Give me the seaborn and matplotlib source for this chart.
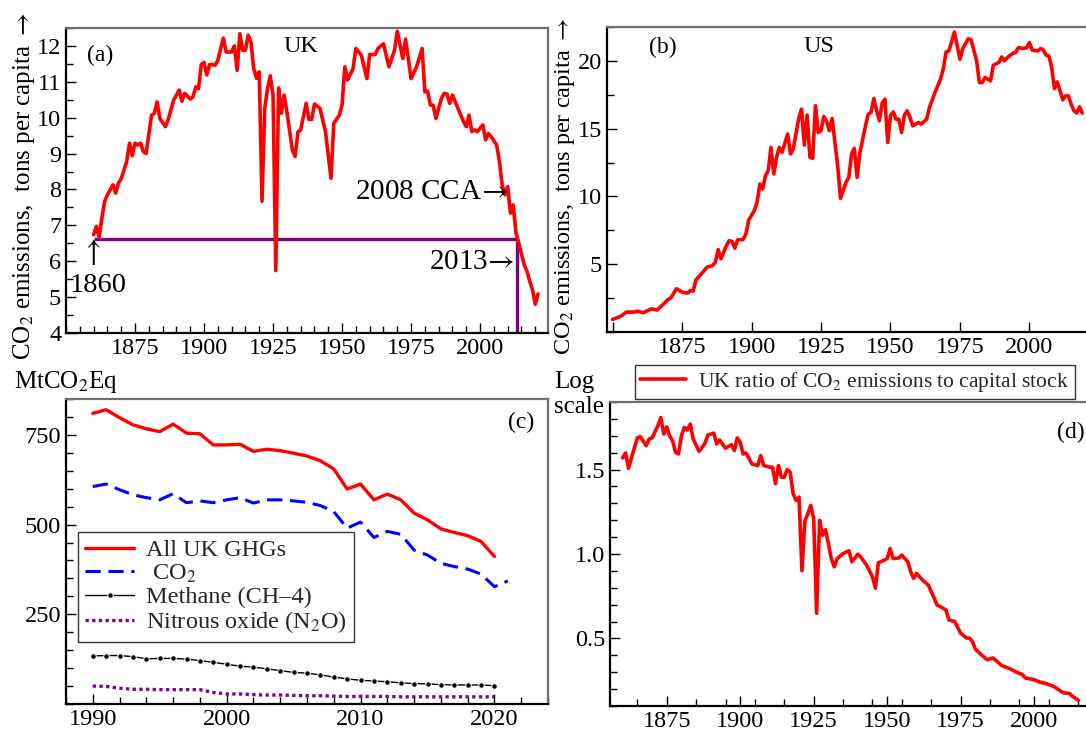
import matplotlib
matplotlib.use("Agg")
import matplotlib.pyplot as plt
import seaborn as sns
from matplotlib.ticker import MultipleLocator, FixedLocator, FuncFormatter

# ---- (a) UK CO2 per capita, tons ----
uk_years = [1860, 1861, 1862, 1863, 1864, 1865, 1867, 1868, 1869, 1870, 1872, 1873, 1874, 1875,
            1876, 1877, 1878, 1879, 1881, 1882, 1883, 1884, 1886, 1887, 1889, 1891, 1892, 1893,
            1895, 1896, 1897, 1898, 1899, 1900, 1901, 1902, 1903, 1904, 1905, 1907, 1908, 1909,
            1910, 1911, 1912, 1913, 1914, 1915, 1916, 1917, 1918, 1919, 1920, 1921, 1922, 1923,
            1924, 1925, 1926, 1927, 1928, 1929, 1930, 1932, 1933, 1934, 1935, 1937, 1938, 1939,
            1940, 1942, 1944, 1946, 1947, 1949, 1950, 1951, 1952, 1954, 1955, 1957, 1959, 1960,
            1962, 1963, 1965, 1967, 1969, 1970, 1972, 1973, 1975, 1977, 1979, 1980, 1981, 1982,
            1983, 1984, 1986, 1987, 1988, 1989, 1990, 1992, 1994, 1995, 1996, 1997, 1998, 1999,
            2001, 2002, 2003, 2004, 2006, 2007, 2008, 2009, 2010, 2011, 2012, 2013, 2014, 2015,
            2016, 2017, 2018, 2019, 2020, 2021]
uk_co2 = [6.74, 6.97, 6.67, 7.20, 7.67, 7.85, 8.13, 7.90, 8.18, 8.30, 8.78, 9.29, 8.94, 9.29,
          9.24, 9.29, 9.06, 9.00, 10.07, 10.12, 10.44, 9.98, 9.75, 9.94, 10.49, 10.77, 10.46, 10.68,
          10.52, 10.58, 10.86, 10.81, 11.48, 11.54, 11.19, 11.48, 11.48, 11.46, 11.60, 12.22, 11.83, 11.83,
          11.83, 12.00, 11.32, 12.34, 11.88, 11.88, 12.30, 12.10, 11.37, 11.10, 11.28, 7.67, 10.26, 10.81,
          11.17, 10.63, 5.74, 10.83, 10.12, 10.63, 10.17, 9.10, 8.92, 9.60, 9.66, 10.40, 9.95, 9.95,
          10.38, 10.26, 9.61, 8.31, 9.84, 10.07, 10.35, 11.42, 11.05, 11.37, 11.93, 11.74, 11.09, 11.76,
          11.76, 11.93, 12.06, 11.42, 11.88, 12.41, 11.65, 12.19, 11.09, 11.42, 11.93, 10.72, 10.74, 10.35,
          10.35, 9.98, 10.54, 10.68, 10.66, 10.40, 10.63, 10.26, 9.89, 9.75, 10.07, 9.61, 9.66, 9.61,
          9.80, 9.38, 9.56, 9.47, 9.24, 8.78, 8.13, 7.85, 8.08, 7.34, 7.57, 6.80, 6.50, 6.20,
          5.90, 5.72, 5.44, 5.20, 4.80, 5.09]
ref_level = 6.63        # 1860 level
ref_start_year = 1860
ref_end_year = 2013.3

# ---- (b) US CO2 per capita, tons ----
us_years = [1850, 1853, 1855, 1858, 1859, 1861, 1864, 1866, 1868, 1870, 1871, 1873, 1875, 1877,
            1878, 1879, 1880, 1882, 1884, 1886, 1887, 1888, 1889, 1891, 1892, 1893, 1894, 1895,
            1897, 1898, 1899, 1901, 1902, 1903, 1904, 1905, 1906, 1907, 1908, 1909, 1910, 1911,
            1913, 1914, 1915, 1917, 1918, 1919, 1920, 1921, 1922, 1923, 1924, 1925, 1926, 1927,
            1928, 1929, 1931, 1932, 1934, 1935, 1936, 1937, 1938, 1939, 1941, 1942, 1943, 1944,
            1945, 1946, 1947, 1948, 1949, 1950, 1951, 1952, 1953, 1954, 1955, 1956, 1957, 1958,
            1960, 1961, 1963, 1964, 1966, 1968, 1969, 1970, 1971, 1973, 1975, 1976, 1978, 1979,
            1981, 1982, 1983, 1984, 1986, 1987, 1989, 1990, 1991, 1992, 1994, 1995, 1996, 1998,
            1999, 2000, 2001, 2003, 2004, 2005, 2006, 2007, 2008, 2009, 2010, 2011, 2012, 2013,
            2014, 2015, 2016, 2017, 2018, 2019]
us_co2 = [0.93, 1.17, 1.47, 1.47, 1.54, 1.42, 1.71, 1.62, 2.00, 2.40, 2.52, 3.19, 2.94, 2.87,
          3.06, 3.01, 3.85, 4.29, 4.78, 4.90, 5.15, 6.08, 5.40, 6.38, 6.75, 6.67, 6.18, 6.80,
          6.82, 7.24, 8.27, 8.95, 9.57, 10.92, 10.55, 11.53, 11.90, 13.62, 11.66, 12.89, 13.62, 13.25,
          14.60, 13.13, 13.50, 15.76, 16.44, 13.79, 16.00, 12.89, 12.81, 16.69, 14.72, 14.85, 15.90, 15.58,
          14.85, 15.75, 12.27, 9.86, 11.04, 11.40, 13.13, 13.54, 11.40, 13.25, 15.21, 16.07, 16.20, 17.23,
          16.32, 15.58, 16.88, 17.18, 13.98, 15.95, 16.24, 15.70, 15.70, 14.72, 16.00, 16.32, 15.83, 15.21,
          15.46, 15.33, 15.70, 16.56, 17.67, 18.65, 19.43, 20.66, 20.73, 22.13, 20.12, 20.90, 21.64, 21.55,
          20.00, 18.40, 18.40, 18.77, 18.53, 19.68, 19.88, 20.29, 20.00, 20.24, 20.56, 20.61, 20.98, 20.91,
          20.98, 21.35, 20.79, 20.73, 20.91, 20.81, 20.42, 20.37, 19.51, 17.96, 18.45, 17.79, 17.13, 17.42,
          17.42, 16.81, 16.32, 16.15, 16.61, 16.15]

# ---- (c) UK greenhouse gases, MtCO2Eq ----
ghg_years = list(range(1990, 2021))
all_ghg = [810, 820, 798, 778, 767, 759, 780, 755, 753, 722, 722, 724, 704, 710, 706, 699,
           691, 678, 655, 599, 613, 569, 585, 569, 532, 513, 488, 478, 469, 453, 411]
co2_years = list(range(1990, 2022))
co2 = [606, 613, 597, 583, 575, 569, 586, 561, 566, 561, 569, 575, 560, 569, 569, 566,
       562, 553, 536, 490, 507, 464, 481, 473, 429, 415, 392, 383, 376, 362, 327, 343]
methane = [134, 135, 135, 132, 126, 127, 127, 125, 121, 116, 111, 105, 103, 98, 93, 88,
           86, 81, 75, 70, 66, 64, 62, 59, 57, 56, 54, 53, 53, 53, 51]
nitrous = [50, 49, 44, 41, 41, 40, 40, 40, 40, 32, 28, 28, 26, 25, 25, 24,
           23, 23, 22, 21, 21, 21, 21, 20, 20, 20, 20, 20, 20, 20, 20]

# ---- (d) UK ratio of CO2 emissions to capital stock ----
ratio_years = [1860, 1861, 1862, 1863, 1865, 1866, 1868, 1869, 1870, 1872, 1873, 1874, 1875, 1876,
               1877, 1878, 1879, 1880, 1881, 1882, 1883, 1884, 1886, 1888, 1889, 1891, 1892, 1893,
               1895, 1897, 1898, 1899, 1900, 1901, 1902, 1904, 1906, 1907, 1908, 1910, 1911, 1912,
               1913, 1914, 1915, 1916, 1917, 1918, 1919, 1920, 1921, 1922, 1923, 1924, 1925, 1926,
               1927, 1928, 1929, 1930, 1931, 1932, 1933, 1935, 1937, 1938, 1940, 1941, 1943, 1945,
               1946, 1947, 1949, 1950, 1951, 1952, 1954, 1955, 1957, 1958, 1959, 1960, 1962, 1964,
               1965, 1967, 1969, 1970, 1971, 1973, 1975, 1977, 1978, 1979, 1980, 1982, 1984, 1986,
               1987, 1989, 1992, 1994, 1996, 1997, 2000, 2002, 2004, 2005, 2007, 2009, 2010, 2012,
               2013, 2015]
ratio = [1.569, 1.598, 1.508, 1.569, 1.687, 1.695, 1.641, 1.681, 1.687, 1.759, 1.808, 1.710, 1.753, 1.700,
         1.671, 1.602, 1.592, 1.700, 1.750, 1.734, 1.769, 1.681, 1.608, 1.655, 1.704, 1.716, 1.651, 1.675,
         1.626, 1.647, 1.612, 1.687, 1.661, 1.592, 1.598, 1.533, 1.524, 1.583, 1.524, 1.514, 1.514, 1.416,
         1.524, 1.455, 1.455, 1.500, 1.484, 1.357, 1.317, 1.337, 0.901, 1.195, 1.239, 1.288, 1.209, 0.649,
         1.199, 1.111, 1.144, 1.062, 0.973, 0.924, 0.973, 1.003, 1.019, 0.954, 0.999, 0.983, 0.934, 0.865,
         0.797, 0.948, 0.964, 0.973, 1.032, 0.973, 0.977, 0.993, 0.954, 0.895, 0.856, 0.885, 0.846, 0.816,
         0.777, 0.698, 0.679, 0.669, 0.610, 0.600, 0.531, 0.502, 0.502, 0.482, 0.437, 0.404, 0.374, 0.384,
         0.370, 0.339, 0.319, 0.300, 0.286, 0.266, 0.256, 0.241, 0.233, 0.227, 0.213, 0.188, 0.178, 0.174,
         0.158, 0.134]

sns.set_theme(style="ticks")
plt.rcParams["font.family"] = ["Liberation Serif", "DejaVu Serif"]
plt.rcParams["mathtext.fontset"] = "stix"

W, H = 1086, 733
fig = plt.figure(figsize=(W / 100, H / 100), dpi=100)


def px_axes(left, top, width, height):
    return fig.add_axes([left / W, 1 - (top + height) / H, width / W, height / H])


def px_text(x, y, s, **kw):
    kw.setdefault("va", "center")
    kw.setdefault("color", "black")
    fig.text(x / W, 1 - y / H, s, **kw)


def style_axes(ax):
    for side in ["left", "bottom"]:
        ax.spines[side].set_color("black")
        ax.spines[side].set_linewidth(1.6)
    for side in ["top", "right"]:
        ax.spines[side].set_color("#6e6e6e")
        ax.spines[side].set_linewidth(1.6)
    ax.tick_params(which="both", direction="in", colors="black", labelsize=17.5,
                   width=1.0, pad=3.5, top=False, right=False)
    ax.tick_params(which="major", length=7)
    ax.tick_params(which="minor", length=5)
    ax.set_xlabel("")
    ax.set_ylabel("")


red = "#ff0000"
ylab = "CO$_2$ emissions,  tons per capita $\\rightarrow$"

# (a) UK
ax_a = px_axes(66, 28, 482, 305)
ax_a.hlines(ref_level, ref_start_year, ref_end_year, color="#800080", lw=2.4)
ax_a.vlines(ref_end_year, 4, ref_level, color="#800080", lw=2.4)
sns.lineplot(x=uk_years, y=uk_co2, ax=ax_a, color=red, linewidth=2.6)
ax_a.set_xlim(1850, 2024.6)
ax_a.set_ylim(4, 12.5)
ax_a.xaxis.set_major_locator(FixedLocator([1875, 1900, 1925, 1950, 1975, 2000]))
ax_a.xaxis.set_minor_locator(MultipleLocator(5))
ax_a.yaxis.set_major_locator(MultipleLocator(1))
ax_a.yaxis.set_minor_locator(MultipleLocator(0.5))
style_axes(ax_a)
px_text(100, 55, "(a)", ha="center", fontsize=17)
px_text(301, 46, "UK", ha="center", fontsize=17.5)
px_text(508, 192, "2008 CCA$\\!\\rightarrow$", ha="right", fontsize=21)
px_text(515, 262, "2013$\\!\\rightarrow$", ha="right", fontsize=21)
px_text(91, 252, "$\\uparrow$", ha="center", fontsize=22)
px_text(98, 285, "1860", ha="center", fontsize=20.5)
px_text(24, 186, ylab, ha="center", rotation=90, fontsize=18)

# (b) US
ax_b = px_axes(607, 27, 485, 305)
sns.lineplot(x=us_years, y=us_co2, ax=ax_b, color=red, linewidth=2.6)
ax_b.set_xlim(1848, 2022.5)
ax_b.set_ylim(0, 22.5)
ax_b.xaxis.set_major_locator(FixedLocator([1850, 1875, 1900, 1925, 1950, 1975, 2000]))
ax_b.xaxis.set_major_formatter(FuncFormatter(lambda v, p: "" if v < 1860 else f"{int(v)}"))
ax_b.yaxis.set_major_locator(FixedLocator([5, 10, 15, 20]))
ax_b.yaxis.set_minor_locator(MultipleLocator(2.5))
style_axes(ax_b)
px_text(663, 47, "(b)", ha="center", fontsize=17)
px_text(819, 47, "US", ha="center", fontsize=17.5)
px_text(565, 186, ylab, ha="center", rotation=90, fontsize=17.5)

# (c) UK GHGs
ax_c = px_axes(66, 399, 482, 305)
sns.lineplot(x=ghg_years, y=all_ghg, ax=ax_c, color=red, linewidth=2.4, label="All UK GHGs")
sns.lineplot(x=co2_years, y=co2, ax=ax_c, color="#0000ff", linewidth=2.2,
             linestyle=(0, (5, 2.5)), label=" CO$_2$")
sns.lineplot(x=ghg_years, y=methane, ax=ax_c, color="black", linewidth=1.0,
             marker="o", markersize=4, label="Methane (CH\u20134)")
sns.lineplot(x=ghg_years, y=nitrous, ax=ax_c, color="#8b008b", linewidth=2.4,
             linestyle=(0, (1, 1)), label="Nitrous oxide (N$_2$O)")
ax_c.set_xlim(1988, 2024)
ax_c.set_ylim(0, 850)
ax_c.xaxis.set_major_locator(MultipleLocator(10))
ax_c.xaxis.set_minor_locator(MultipleLocator(2))
ax_c.yaxis.set_major_locator(FixedLocator([250, 500, 750]))
ax_c.yaxis.set_minor_locator(MultipleLocator(50))
style_axes(ax_c)
leg = ax_c.legend(loc="upper left", bbox_to_anchor=(0.025, 0.564), borderaxespad=0,
                  fontsize=17.5, handlelength=2.0, labelspacing=0.05, borderpad=0.3,
                  handletextpad=0.5, fancybox=False, framealpha=1, edgecolor="#333333")
leg.get_frame().set_linewidth(1.0)
px_text(521, 422, "(c)", ha="center", fontsize=17)
px_text(14, 382, "MtCO$_2$Eq", ha="left", fontsize=18)

# (d) ratio
ax_d = px_axes(610, 402, 485, 304)
sns.lineplot(x=ratio_years, y=ratio, ax=ax_d, color=red, linewidth=2.6,
             label="UK ratio of CO$_2$ emissions to capital stock")
ax_d.set_xlim(1855.7, 2020.7)
ax_d.set_ylim(0.1, 1.9)
ax_d.xaxis.set_major_locator(FixedLocator([1875, 1900, 1925, 1950, 1975, 2000]))
ax_d.xaxis.set_minor_locator(FixedLocator(list(range(1865, 2020, 10))))
ax_d.yaxis.set_major_locator(FixedLocator([0.5, 1.0, 1.5]))
ax_d.yaxis.set_major_formatter(FuncFormatter(lambda v, p: f"{v:.1f}"))
ax_d.yaxis.set_minor_locator(MultipleLocator(0.1))
style_axes(ax_d)
leg_d = ax_d.legend(loc="lower left", bbox_to_anchor=(0.0515, 1.009), borderaxespad=0,
                    fontsize=15.5, handlelength=2.1, borderpad=0.25, handletextpad=0.6,
                    fancybox=False, framealpha=1, edgecolor="#333333")
leg_d.get_frame().set_linewidth(1.0)
px_text(1057, 432, "(d)", ha="left", fontsize=17)
px_text(554, 382, "Log", ha="left", fontsize=18)
px_text(554, 407, "scale", ha="left", fontsize=18)

fig.savefig("out.png", dpi=100)
plt.close(fig)
